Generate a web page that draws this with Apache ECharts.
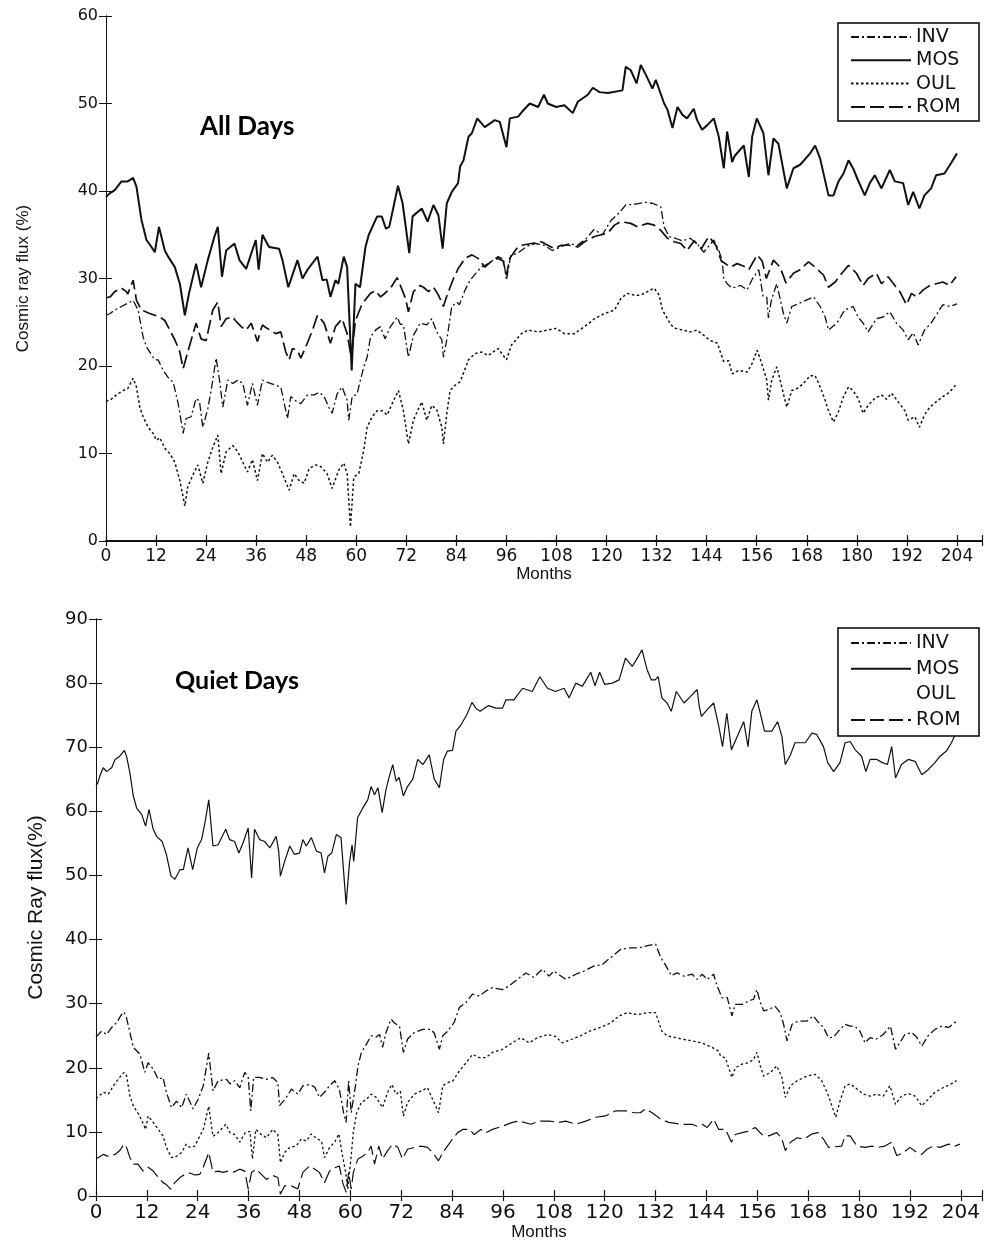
<!DOCTYPE html>
<html>
<head>
<meta charset="utf-8">
<title>Cosmic ray flux – All Days / Quiet Days</title>
<script src="https://cdn.jsdelivr.net/npm/echarts@6/dist/echarts.min.js"></script>
<style>
  html, body { margin: 0; padding: 0; background: #fff; }
  #chart { width: 985px; height: 1242px; }
</style>
</head>
<body>
<div id="chart"></div>
<script>
// Monthly cosmic ray flux (%) per neutron-monitor station, as [month, value] pairs.
const stations = ['INV', 'MOS', 'OUL', 'ROM'];
const monthTicks = [0, 12, 24, 36, 48, 60, 72, 84, 96, 108, 120, 132, 144, 156, 168, 180, 192, 204];

// ---- All Days ----
const allINV = [[0,25.8],[1.0,26.0],[2.1,26.4],[3.7,26.8],[4.9,27.1],[6.5,27.5],[7.7,26.4],[8.9,23.3],[9.7,22.2],[11.7,20.7],[12.5,20.7],[13.7,19.5],[15.3,18.4],[16.1,18.2],[17.3,15.7],[18.5,12.3],[19.2,14.0],[20.4,14.2],[21.6,16.3],[22.4,16.0],[23.2,13.0],[24.4,15.1],[25.2,17.2],[26.4,20.9],[27.2,18.4],[28.0,15.3],[29.2,18.4],[30.4,18.0],[31.6,18.4],[32.8,18.0],[33.9,15.5],[35.1,18.0],[36.3,15.5],[37.5,18.4],[38.3,18.2],[40.7,17.8],[41.9,17.6],[43.5,14.0],[44.3,16.5],[45.5,16.0],[46.7,15.7],[48.3,16.7],[49.9,16.7],[51.1,17.0],[52.3,16.5],[53.4,15.3],[54.2,14.6],[55.4,16.8],[56.6,17.6],[57.8,16.1],[58.2,13.8],[59.0,16.5],[60.2,16.8],[61.0,18.4],[61.8,19.9],[62.6,21.0],[63.4,23.3],[64.6,24.1],[65.8,24.5],[66.9,23.1],[68.2,24.5],[69.8,25.6],[70.5,24.8],[71.3,24.7],[72.5,21.0],[73.7,23.5],[75.3,24.9],[76.9,24.7],[78.1,25.4],[79.3,23.9],[80.5,23.0],[80.9,21.0],[81.7,23.0],[82.9,26.8],[84.1,27.3],[84.7,27.0],[86.1,28.7],[87.3,29.8],[88.5,30.5],[90.0,31.3],[92.0,31.8],[94.0,32.5],[95.3,32.2],[96.0,29.8],[97.0,32.6],[99.0,33.0],[101.0,33.7],[103.0,34.0],[105.0,33.8],[107.0,33.2],[109.0,33.6],[111.0,34.0],[113.0,33.8],[115.0,34.5],[117.0,35.6],[119.0,35.0],[121.0,36.6],[123.0,37.5],[124.6,38.4],[127.0,38.5],[129.0,38.7],[131.0,38.6],[133.0,38.2],[133.8,35.9],[135.0,34.8],[136.5,34.6],[138.2,34.3],[140.0,34.6],[141.7,34.0],[143.3,33.0],[145.7,34.4],[146.9,33.2],[147.7,32.1],[148.1,30.0],[148.9,29.4],[150.1,28.9],[152.1,29.2],[153.7,28.7],[155.0,30.0],[156.5,31.0],[157.5,28.0],[158.4,27.9],[158.8,25.5],[159.5,27.5],[160.8,29.4],[162.4,26.0],[163.2,24.9],[164.4,26.8],[166.8,27.3],[169.6,27.9],[171.2,26.8],[172.4,25.6],[173.2,24.1],[175.2,24.9],[177.1,26.4],[179.1,26.8],[180.3,25.6],[181.5,24.9],[182.7,23.9],[184.7,25.4],[186.3,25.6],[187.9,26.2],[189.5,24.9],[191.1,24.1],[192.3,23.0],[193.5,23.8],[194.7,22.4],[196.2,24.1],[197.8,24.9],[199.0,25.8],[200.6,27.0],[202.2,26.8],[204.0,27.1]];

const allMOS = [[0,39.3],[0.8,39.7],[2.1,40.1],[3.7,41.1],[5.2,41.1],[6.5,41.5],[7.3,40.5],[8.5,36.7],[9.7,34.4],[10.9,33.6],[11.7,33.0],[12.7,35.9],[14.1,33.2],[14.9,32.5],[16.5,31.3],[17.7,29.4],[18.9,25.8],[19.9,28.3],[21.6,31.7],[22.8,29.0],[24.4,32.1],[26.0,34.8],[26.8,35.9],[27.8,30.2],[28.8,33.2],[30.8,34.0],[32.0,32.1],[33.6,31.1],[35.9,34.4],[36.6,31.0],[37.5,35.0],[39.1,33.6],[41.5,33.4],[42.3,32.1],[43.7,29.0],[45.9,32.1],[47.1,30.0],[48.3,31.0],[50.7,32.5],[51.9,29.8],[52.9,29.9],[53.8,27.9],[55.0,29.8],[55.7,29.4],[57.0,32.5],[57.8,31.3],[58.9,19.5],[59.8,29.4],[60.9,29.0],[62.2,33.6],[63.0,35.0],[65.0,37.1],[66.1,37.1],[67.1,35.7],[67.9,35.9],[70.0,40.6],[71.1,38.6],[72.7,32.9],[73.5,37.1],[75.7,38.0],[77.1,36.5],[78.5,38.4],[79.7,37.2],[80.7,33.4],[81.7,38.6],[82.9,39.9],[84.4,40.9],[84.9,42.8],[85.7,43.5],[86.9,46.2],[87.7,46.6],[89.0,48.3],[90.8,47.3],[93.2,48.1],[94.4,47.9],[96.0,45.0],[96.8,48.3],[98.8,48.5],[100.0,49.2],[101.6,50.0],[103.6,49.6],[105.0,51.0],[105.9,50.0],[107.9,49.6],[109.9,49.8],[111.9,48.9],[113.1,50.2],[115.5,51.0],[116.7,51.8],[118.3,51.3],[120.3,51.2],[123.8,51.5],[124.6,54.2],[125.8,53.8],[127.2,52.3],[128.2,54.4],[129.4,53.3],[131.0,51.7],[131.8,52.7],[133.8,50.0],[134.6,49.3],[135.8,47.2],[137.0,49.6],[138.2,48.7],[139.3,48.3],[140.9,49.4],[141.7,48.1],[142.9,47.0],[144.1,47.5],[145.7,48.3],[146.9,46.2],[148.1,42.6],[148.9,46.8],[150.1,43.3],[150.7,44.0],[152.9,45.2],[154.1,41.6],[154.9,46.2],[156.0,48.3],[157.6,46.6],[158.8,41.8],[160.0,46.0],[161.2,45.4],[163.2,40.3],[164.8,42.6],[166.4,43.0],[168.8,44.3],[170.0,45.2],[171.2,43.7],[173.2,39.5],[174.4,39.5],[175.6,41.1],[176.8,42.0],[178.0,43.5],[179.1,42.6],[180.3,41.2],[181.9,39.5],[183.1,40.9],[184.3,41.8],[185.9,40.3],[187.9,42.4],[189.1,41.1],[191.1,40.9],[192.3,38.4],[193.5,39.9],[195.0,38.0],[196.2,39.5],[197.8,40.3],[199.0,41.8],[201.0,42.0],[202.6,43.2],[204.0,44.3]];

const allOUL = [[0,16.0],[1.0,16.1],[2.5,16.7],[4.1,17.2],[5.2,17.4],[6.5,18.6],[7.3,17.6],[8.1,15.3],[8.9,14.2],[10.1,13.0],[11.3,12.3],[12.1,11.5],[12.9,11.8],[14.1,10.6],[15.3,10.0],[16.5,9.0],[17.7,6.9],[18.9,4.0],[19.6,6.2],[20.8,7.5],[22.0,8.7],[23.2,6.6],[24.4,9.0],[25.6,10.7],[26.8,12.1],[27.6,7.7],[28.8,10.2],[30.4,10.9],[31.6,10.2],[32.8,9.0],[33.9,7.9],[35.1,9.3],[36.3,6.9],[37.5,10.0],[38.7,9.0],[39.9,9.8],[41.1,9.0],[42.3,7.7],[43.9,5.8],[45.1,7.7],[46.3,6.9],[47.5,6.6],[48.7,8.3],[50.3,8.7],[51.5,8.5],[53.0,7.7],[54.2,6.0],[55.8,8.1],[57.0,8.9],[57.8,7.7],[58.6,1.6],[59.4,7.3],[60.6,7.7],[61.8,10.4],[62.6,13.0],[63.8,14.2],[65.0,14.9],[66.2,14.9],[67.4,14.4],[68.6,15.7],[70.1,17.2],[71.3,14.9],[72.5,11.1],[73.7,13.8],[74.9,15.1],[75.7,15.9],[76.9,13.8],[78.1,15.5],[79.3,15.0],[80.5,13.0],[80.9,11.1],[81.7,14.6],[82.5,17.2],[83.7,17.8],[84.9,18.2],[86.1,19.7],[86.9,20.7],[88.4,21.4],[90.0,21.6],[91.6,21.2],[94.0,22.0],[96.0,20.7],[97.2,22.4],[99.6,23.7],[101.2,24.1],[103.6,23.9],[105.9,24.1],[107.9,24.3],[109.9,23.7],[112.3,23.7],[114.7,24.5],[117.1,25.4],[119.5,26.0],[121.9,26.4],[123.4,27.7],[125.0,28.3],[126.6,28.1],[128.2,28.1],[129.8,28.5],[131.4,28.9],[132.6,28.1],[133.4,26.4],[134.6,25.4],[135.4,24.7],[136.6,24.3],[138.2,24.1],[140.1,23.9],[141.7,24.1],[143.3,23.5],[144.9,22.9],[146.6,22.6],[147.4,21.4],[148.1,20.5],[149.3,20.6],[150.1,19.1],[151.7,19.5],[153.7,19.3],[154.9,20.3],[156.1,21.8],[156.9,20.7],[157.7,19.5],[158.4,18.4],[158.8,16.1],[159.6,18.4],[160.8,19.9],[161.6,18.4],[162.4,16.8],[163.2,15.3],[164.4,17.2],[165.6,17.4],[167.2,18.0],[168.8,18.9],[170.0,18.9],[171.2,17.6],[172.4,16.1],[173.2,14.9],[174.4,13.6],[175.6,14.8],[176.8,16.5],[178.0,17.6],[179.1,17.2],[180.3,16.3],[181.5,14.6],[182.7,15.5],[184.3,16.3],[185.9,16.7],[187.1,16.2],[188.3,16.9],[189.9,15.9],[191.5,14.9],[192.3,13.8],[193.9,14.2],[195.0,13.0],[196.2,14.4],[197.5,15.3],[199.0,15.9],[200.6,16.5],[202.2,17.0],[204.0,18.0]];

const allROM = [[0,27.8],[1.0,27.9],[2.1,28.5],[3.7,28.9],[4.9,28.5],[5.2,28.2],[6.5,29.8],[7.3,27.5],[8.5,26.4],[10.5,26.0],[12.9,25.6],[14.1,25.2],[15.3,24.1],[16.5,23.0],[17.7,21.6],[18.5,19.7],[19.6,21.6],[21.6,24.9],[22.8,23.1],[24.0,22.9],[25.6,26.4],[26.8,27.3],[27.6,24.5],[28.8,25.4],[30.4,25.6],[31.0,25.2],[32.4,24.5],[33.6,24.1],[34.8,24.9],[36.3,22.8],[37.5,24.7],[38.3,24.4],[40.7,23.7],[41.9,23.9],[43.1,21.6],[43.9,20.7],[44.7,22.0],[45.9,21.8],[46.7,20.9],[47.9,22.2],[49.5,24.1],[50.7,25.8],[52.3,24.9],[53.8,22.6],[55.0,24.5],[56.6,25.4],[57.8,23.7],[58.8,21.0],[59.8,25.2],[61.4,27.1],[63.4,28.3],[64.6,28.6],[65.8,27.9],[66.6,28.2],[68.2,28.9],[69.8,30.1],[71.0,28.7],[71.8,27.7],[72.5,26.2],[73.7,28.5],[75.3,29.2],[76.1,29.0],[77.3,28.5],[78.5,29.0],[79.7,28.1],[80.9,26.8],[81.7,28.0],[83.3,30.0],[84.5,31.2],[86.1,32.3],[87.7,32.7],[89.2,32.3],[90.8,31.3],[92.5,32.0],[94.0,32.3],[95.2,32.0],[96.0,30.4],[96.8,32.3],[98.4,33.4],[99.6,33.8],[102.0,34.0],[104.4,34.2],[105.9,33.8],[107.5,33.4],[109.1,33.8],[111.1,33.8],[113.1,33.6],[114.7,34.2],[117.1,34.8],[118.7,35.0],[120.3,35.2],[121.9,36.1],[123.4,36.5],[125.8,36.3],[127.4,35.9],[129.8,36.3],[131.4,36.1],[133.0,35.5],[134.6,34.6],[136.2,34.2],[137.8,34.0],[139.3,33.2],[141.0,34.3],[142.7,33.4],[144.5,34.8],[146.2,33.8],[147.5,32.0],[149.7,31.3],[151.3,31.7],[152.9,31.4],[154.1,31.0],[156.1,32.7],[157.3,32.0],[158.3,30.0],[160.0,32.1],[161.6,31.3],[163.0,29.5],[164.8,30.6],[166.4,31.0],[168.4,31.9],[170.0,31.3],[172.0,30.4],[173.2,29.0],[174.8,29.6],[176.4,30.6],[178.0,31.5],[179.9,30.6],[181.5,29.2],[182.7,30.0],[184.7,30.6],[185.9,29.4],[187.5,30.2],[189.1,29.2],[190.3,28.5],[191.9,27.0],[193.1,28.3],[194.3,27.9],[195.9,28.7],[197.5,29.2],[199.0,29.4],[200.6,29.6],[202.2,29.2],[203.8,30.2]];

// ---- Quiet Days ----
const quietINV = [[0,24.8],[0.4,25.0],[1.3,25.7],[2.5,25.2],[3.7,26.3],[4.9,27.1],[6.0,28.3],[6.6,28.7],[7.2,27.8],[8.0,25.5],[8.8,23.2],[10.4,22.1],[11.5,19.3],[12.3,20.8],[13.5,19.8],[14.7,18.2],[15.8,18.5],[16.6,16.2],[17.8,13.8],[19.0,14.8],[20.2,13.8],[21.3,15.9],[22.1,14.8],[22.9,13.6],[24.1,15.1],[25.3,17.2],[26.6,22.3],[27.6,16.4],[28.8,18.0],[30.8,18.2],[31.6,17.5],[32.7,18.0],[33.9,16.9],[35.1,19.3],[35.9,18.6],[36.5,13.3],[37.2,18.5],[38.6,18.5],[40.2,18.2],[41.7,18.5],[42.9,17.7],[43.3,14.1],[44.9,15.4],[46.1,16.7],[47.6,15.9],[48.8,17.2],[50.4,17.4],[51.6,17.0],[52.7,15.4],[53.9,16.2],[55.1,17.2],[56.3,18.0],[57.4,16.7],[58.4,13.0],[59.0,11.5],[59.6,18.0],[60.2,13.0],[61.2,17.2],[61.8,20.3],[62.6,22.4],[63.8,23.7],[64.9,25.0],[66.1,24.8],[66.9,25.2],[67.6,23.2],[68.4,25.5],[69.6,27.6],[70.4,27.0],[71.6,26.5],[72.5,22.4],[73.5,24.5],[75.1,25.5],[77.1,26.0],[79.0,26.0],[79.8,25.4],[81.0,22.9],[81.8,25.0],[82.9,25.7],[84.5,27.1],[85.7,29.4],[87.3,30.2],[88.8,31.5],[90.4,31.2],[92.0,32.0],[93.5,32.5],[95.9,32.2],[97.5,32.8],[99.4,33.8],[101.4,34.8],[103.3,34.1],[105.3,35.4],[106.9,34.3],[108.0,35.1],[110.8,33.8],[113.2,34.6],[115.1,35.1],[117.5,35.9],[119.4,36.1],[121.4,37.2],[123.8,38.5],[126.1,38.7],[128.1,38.7],[129.6,39.0],[132.0,39.3],[133.2,37.2],[134.3,36.1],[135.7,34.4],[137.1,34.8],[138.7,34.3],[140.6,34.6],[141.8,33.8],[143.0,34.6],[144.2,33.8],[145.7,34.6],[146.5,32.8],[147.7,30.9],[148.9,31.0],[150.0,28.1],[150.8,29.9],[152.4,29.9],[153.9,30.4],[155.1,30.7],[155.9,32.2],[156.7,30.2],[157.5,28.9],[158.7,29.1],[160.2,29.6],[161.4,28.6],[162.2,26.8],[163.0,24.2],[164.2,26.8],[165.7,27.3],[167.7,27.3],[169.2,28.1],[170.4,27.1],[171.6,26.3],[172.8,24.7],[174.0,24.8],[175.1,25.7],[176.7,26.8],[177.9,26.5],[179.0,26.5],[180.2,25.7],[181.4,23.9],[182.6,24.7],[184.1,24.5],[185.7,25.2],[187.4,26.5],[188.6,22.9],[189.6,23.9],[190.8,25.2],[192.4,25.5],[193.6,24.8],[194.8,23.4],[196.3,25.0],[197.9,26.0],[199.5,26.5],[201.1,26.3],[202.2,26.8],[203.0,27.3]];

const quietMOS = [[0,64.0],[0.4,64.4],[0.9,65.5],[1.7,66.8],[2.5,66.2],[3.7,66.8],[4.5,68.1],[5.6,68.6],[6.7,69.5],[7.2,68.6],[8.0,66.0],[8.8,62.4],[9.6,60.5],[10.8,59.5],[11.7,57.7],[12.5,60.3],[13.5,57.2],[14.3,56.1],[15.6,55.3],[16.6,53.3],[17.7,49.9],[18.6,49.4],[19.8,50.9],[20.6,50.9],[21.0,52.2],[21.7,54.3],[22.8,50.9],[23.9,54.3],[24.9,55.6],[25.7,58.2],[26.6,61.8],[27.6,54.6],[28.8,54.8],[30.6,57.2],[31.5,55.6],[32.7,55.3],[33.7,53.5],[34.7,55.1],[35.9,57.4],[36.7,49.6],[37.4,57.2],[38.6,55.6],[39.8,55.3],[41.0,54.3],[42.5,56.1],[43.1,53.8],[43.5,49.9],[44.5,52.2],[45.7,54.6],[46.8,53.3],[48.0,53.5],[48.8,55.6],[49.6,54.6],[50.8,55.9],[52.0,53.8],[53.1,53.5],[53.9,50.4],[54.7,53.0],[55.6,53.5],[56.7,56.4],[57.8,55.9],[59.0,45.5],[59.8,52.0],[60.4,54.8],[60.8,52.2],[61.7,59.0],[62.9,60.5],[64.1,61.8],[64.9,63.9],[65.7,62.6],[66.5,63.7],[67.5,59.8],[68.4,63.4],[69.2,65.5],[70.0,67.3],[70.8,64.7],[71.5,65.3],[72.5,62.4],[73.5,63.9],[74.7,65.0],[75.9,68.1],[77.1,67.3],[78.6,68.8],[79.8,65.0],[81.0,63.7],[82.0,68.1],[82.9,69.4],[84.1,69.5],[84.9,72.5],[86.1,73.5],[87.5,75.1],[88.7,77.0],[89.6,76.1],[90.6,75.6],[92.6,76.5],[94.3,76.1],[95.9,76.1],[96.7,77.4],[98.6,77.4],[100.6,79.2],[102.9,78.7],[104.7,81.0],[106.5,79.2],[108.4,78.7],[110.4,79.2],[111.6,77.7],[113.2,80.0],[114.7,79.5],[116.7,81.7],[117.7,79.6],[118.8,81.7],[120.0,79.8],[121.8,80.0],[123.4,80.5],[124.9,83.9],[126.5,82.6],[127.7,83.9],[128.8,85.2],[130.0,82.1],[131.0,80.5],[131.9,80.5],[132.6,81.0],[133.5,77.7],[134.7,76.9],[135.7,75.6],[136.9,78.7],[138.7,76.9],[140.2,77.9],[141.8,79.0],[142.3,76.4],[142.8,74.8],[144.5,76.1],[145.7,76.9],[146.9,73.3],[147.8,70.1],[148.8,75.3],[149.9,69.6],[151.6,72.2],[152.8,74.0],[153.8,70.1],[154.7,75.6],[155.9,77.4],[156.7,75.3],[157.7,72.5],[159.4,72.5],[160.8,74.0],[161.8,71.7],[162.6,67.3],[163.8,68.8],[164.9,70.7],[167.3,70.7],[168.9,72.2],[170.0,72.0],[171.6,70.1],[172.6,67.6],[174.0,66.2],[175.5,67.6],[176.7,70.7],[177.9,70.9],[179.1,69.6],[180.6,68.6],[181.6,66.2],[182.6,68.1],[184.2,68.1],[185.5,67.6],[186.7,67.3],[187.7,70.1],[188.6,65.2],[190.0,67.3],[191.6,68.1],[193.2,67.8],[194.8,65.7],[196.3,66.5],[197.9,67.6],[199.1,68.6],[200.6,69.4],[201.8,70.7],[202.8,72.2],[204.0,73.5]];

const quietOUL = [[0,15.2],[0.4,15.4],[1.7,16.2],[2.9,15.9],[4.1,17.2],[5.2,18.2],[6.6,19.3],[7.2,18.8],[8.0,15.6],[8.8,14.1],[10.0,12.8],[10.8,11.8],[11.7,10.4],[12.3,12.5],[13.5,11.5],[14.7,10.4],[15.8,9.4],[16.6,7.6],[17.8,6.0],[19.0,6.2],[20.2,6.8],[21.3,8.1],[22.1,7.6],[23.3,7.8],[24.5,9.4],[25.3,10.4],[26.6,14.0],[27.6,9.3],[28.8,9.9],[30.6,11.2],[31.6,9.9],[32.7,9.6],[33.9,8.4],[35.2,9.9],[36.3,10.1],[36.9,5.8],[37.7,10.4],[39.0,9.6],[40.2,9.1],[41.7,10.4],[42.9,9.6],[43.5,5.2],[44.5,6.8],[45.7,7.6],[47.2,7.8],[48.4,8.9],[49.6,8.6],[50.8,9.7],[52.0,9.0],[53.2,8.6],[53.9,6.0],[55.1,7.6],[56.3,8.4],[57.3,9.7],[58.0,6.8],[58.9,3.7],[59.4,1.1],[60.2,6.3],[60.7,10.0],[61.5,13.0],[62.6,14.6],[63.8,15.1],[64.9,15.9],[66.1,15.4],[67.6,13.8],[68.8,16.2],[69.8,17.4],[70.8,15.9],[71.8,16.4],[72.5,12.5],[73.5,14.6],[75.1,15.9],[76.7,16.4],[78.2,16.9],[79.4,15.1],[80.8,13.0],[81.8,17.2],[82.9,17.7],[84.1,17.9],[85.7,19.5],[87.3,20.8],[88.8,22.1],[90.4,21.6],[92.0,21.6],[93.5,22.4],[95.9,22.9],[98.2,23.9],[100.2,24.7],[102.2,23.9],[104.1,24.7],[106.5,25.2],[108.4,24.9],[110.0,23.9],[112.4,24.5],[114.3,25.0],[116.3,25.7],[119.0,26.3],[121.4,27.0],[123.4,28.1],[125.3,28.6],[127.7,28.3],[130.0,28.6],[132.0,28.6],[133.5,25.7],[134.7,25.0],[138.2,24.5],[140.6,24.2],[142.9,23.9],[145.3,23.2],[146.9,22.6],[147.3,21.9],[148.5,21.5],[150.0,18.5],[150.8,20.0],[152.4,20.6],[153.9,20.8],[155.1,21.3],[155.9,22.4],[156.7,20.3],[157.5,18.7],[159.1,19.3],[160.6,20.3],[161.8,18.5],[162.6,15.4],[163.8,17.2],[165.4,18.0],[167.7,18.7],[169.6,19.0],[171.2,18.0],[172.8,15.6],[174.5,12.3],[175.5,14.8],[176.7,17.2],[177.9,17.5],[179.5,16.7],[181.0,15.9],[182.6,15.6],[184.1,15.9],[185.7,15.6],[187.3,17.2],[188.6,14.3],[190.0,15.6],[191.6,16.0],[193.2,15.6],[194.8,14.1],[196.3,15.1],[197.9,16.2],[199.8,16.9],[201.4,17.4],[203.0,18.0]];

const quietROM = [[0,5.8],[0.4,6.0],[1.7,6.5],[2.9,6.2],[4.5,6.5],[5.6,7.1],[6.6,8.1],[7.2,7.6],[8.0,6.0],[8.8,5.0],[9.9,5.0],[11.1,3.9],[12.3,4.5],[13.5,3.9],[14.7,2.9],[15.8,2.1],[16.6,1.8],[17.6,1.1],[18.6,2.1],[19.8,2.9],[21.0,3.4],[22.1,3.6],[23.3,3.3],[24.5,3.4],[25.3,4.5],[26.6,6.8],[27.6,3.7],[28.8,3.9],[30.0,3.7],[31.1,3.9],[32.3,3.7],[33.9,4.2],[35.1,3.9],[35.9,1.1],[36.7,3.7],[37.8,4.2],[39.0,3.4],[40.2,2.6],[41.7,3.2],[42.9,2.9],[43.5,0.3],[44.5,1.6],[46.1,1.6],[47.6,1.1],[48.8,3.7],[50.4,4.7],[51.6,4.2],[52.7,3.7],[53.9,2.1],[55.1,3.9],[56.3,4.4],[57.4,4.7],[58.2,2.1],[59.0,0.6],[59.6,3.7],[60.2,1.1],[60.7,3.7],[61.8,5.8],[62.9,6.2],[64.1,6.8],[64.9,7.8],[65.7,5.0],[66.7,7.8],[67.6,5.8],[68.8,7.1],[70.0,8.1],[71.2,7.6],[72.3,5.8],[73.5,7.3],[75.1,7.6],[76.7,7.8],[78.2,7.6],[79.4,6.8],[80.8,5.5],[81.8,6.8],[82.9,7.8],[84.1,8.9],[85.3,9.9],[86.5,10.4],[88.1,10.4],[89.2,9.6],[90.8,10.4],[92.0,9.9],[93.5,10.4],[95.9,10.9],[98.2,11.5],[99.8,11.7],[102.6,11.2],[104.5,11.7],[106.9,11.7],[109.2,11.5],[110.8,11.7],[113.2,11.2],[115.5,11.7],[117.9,12.3],[120.2,12.5],[122.6,13.3],[124.9,13.3],[126.9,13.0],[128.4,13.0],[129.6,13.6],[131.2,13.0],[133.2,12.0],[135.1,11.5],[138.2,11.2],[140.6,11.2],[141.8,10.9],[143.0,11.2],[144.2,10.7],[145.7,12.0],[146.9,10.4],[148.5,10.4],[149.9,8.4],[150.8,9.6],[152.4,9.9],[153.9,10.1],[155.5,10.7],[157.1,9.6],[158.7,9.4],[160.6,9.9],[161.8,8.9],[162.6,7.1],[163.8,8.4],[165.4,9.1],[167.0,8.9],[168.9,9.7],[170.4,9.9],[171.6,8.9],[172.8,7.6],[175.9,7.8],[176.7,9.4],[177.9,9.4],[179.5,7.8],[181.4,7.6],[183.0,7.8],[184.5,7.6],[186.1,7.8],[187.7,8.4],[188.9,6.3],[190.5,6.8],[192.0,7.6],[193.6,6.8],[194.8,6.5],[196.0,7.3],[197.5,7.8],[199.1,7.6],[201.1,8.1],[202.6,7.8],[203.8,8.1]];

// ---- styling ----
const INK = '#111';
const CLEAR = 'rgba(0,0,0,0)';
const TICK_FONT = 'DejaVu Sans, Liberation Sans, sans-serif';
const LABEL_FONT = 'Liberation Sans, Arial, sans-serif';

const dash = {
  INV: [8, 3, 2, 3],
  MOS: 'solid',
  OUL: [2.5, 2.5],
  ROM: [14, 5]
};
const widthAll = { INV: 1.3, MOS: 2.0, OUL: 1.5, ROM: 1.7 };
const widthQuiet = { INV: 1.3, MOS: 1.2, OUL: 1.3, ROM: 1.2 };

const allData = { INV: allINV, MOS: allMOS, OUL: allOUL, ROM: allROM };
const quietData = { INV: quietINV, MOS: quietMOS, OUL: quietOUL, ROM: quietROM };

function monthLabel(v) {
  return monthTicks.indexOf(v) >= 0 ? String(v) : '';
}

function bottomX(gridIndex, max, fontSize, nameGap, showLine) {
  return {
    gridIndex, type: 'value', min: 0, max, interval: 12,
    name: 'Months', nameLocation: 'middle', nameGap,
    nameTextStyle: { color: INK, fontFamily: LABEL_FONT, fontSize: 17 },
    axisLine: { show: showLine, lineStyle: { color: INK, width: 2 } },
    axisTick: { show: true, inside: true, length: 6, lineStyle: { color: INK, width: 1.2 } },
    axisLabel: { color: INK, fontFamily: TICK_FONT, fontSize, margin: 7, formatter: monthLabel, hideOverlap: false },
    splitLine: { show: false }
  };
}
function topX(gridIndex, max) {
  return {
    gridIndex, type: 'value', min: 0, max, interval: 12, position: 'top',
    axisLine: { show: true, lineStyle: { color: INK, width: 1 } },
    axisTick: { show: true, inside: true, length: 5, lineStyle: { color: INK, width: 1.2 } },
    axisLabel: { show: false }, splitLine: { show: false }
  };
}
function leftY(gridIndex, max, name, nameSize, nameGap, fontSize) {
  return {
    gridIndex, type: 'value', min: 0, max, interval: 10,
    name, nameLocation: 'middle', nameGap, nameRotate: 90,
    nameTextStyle: { color: INK, fontFamily: LABEL_FONT, fontSize: nameSize },
    axisLine: { show: true, lineStyle: { color: INK, width: 1 } },
    axisTick: { show: true, inside: true, length: 6, lineStyle: { color: INK, width: 1 } },
    axisLabel: { color: INK, fontFamily: TICK_FONT, fontSize, margin: 8 },
    splitLine: { show: false }
  };
}
function rightY(gridIndex, max) {
  return {
    gridIndex, type: 'value', min: 0, max, interval: 10, position: 'right',
    axisLine: { show: true, lineStyle: { color: INK, width: 1 } },
    axisTick: { show: true, inside: true, length: 7, lineStyle: { color: INK, width: 1 } },
    axisLabel: { show: false }, splitLine: { show: false }
  };
}

function makeSeries(dataMap, widths, axisIndex) {
  return stations.map(name => ({
    name, type: 'line',
    xAxisIndex: axisIndex, yAxisIndex: axisIndex,
    data: dataMap[name],
    symbol: 'none', showSymbol: false, silent: true,
    // transparent item colour keeps the legend marker down to the line sample only
    itemStyle: { color: CLEAR },
    lineStyle: { color: INK, width: widths[name], type: dash[name] },
    z: name === 'MOS' ? 3 : 2
  }));
}

function legendBox(left, top, gap, padding, hideOUL) {
  return {
    orient: 'vertical', left, top,
    selectedMode: false,
    backgroundColor: '#fff',
    borderColor: '#000', borderWidth: 1.5, borderRadius: 0,
    padding, itemGap: gap,
    itemWidth: 60, itemHeight: 14,
    itemStyle: { color: CLEAR, borderWidth: 0 },
    textStyle: { color: INK, fontFamily: TICK_FONT, fontSize: 19, lineHeight: 20, width: 55 },
    data: stations.map(name => (hideOUL && name === 'OUL')
      ? { name, lineStyle: { color: CLEAR } }
      : { name }),
    z: 10
  };
}

const chart = echarts.init(document.getElementById('chart'), null, { renderer: 'canvas' });

chart.setOption({
  animation: false,
  backgroundColor: '#fff',
  title: [
    { text: 'All Days', left: 200, top: 114, padding: 0,
      textStyle: { fontFamily: 'Lato, Open Sans, sans-serif', fontWeight: 'bold', fontSize: 26, color: '#000' } },
    { text: 'Quiet Days', left: 175, top: 668, padding: 0,
      textStyle: { fontFamily: 'Lato, Open Sans, sans-serif', fontWeight: 'bold', fontSize: 25, color: '#000' } }
  ],
  legend: [
    legendBox(838, 23, 3.3, [4, 8, 4, 12], false),
    legendBox(838, 628, 5.7, [5, 8, 6, 12], true)
  ],
  grid: [
    { left: 106, top: 16, width: 879, height: 525 },
    { left: 96, top: 619, width: 889, height: 578 }
  ],
  xAxis: [
    bottomX(0, 210, 17, 25, true),
    topX(0, 210),
    bottomX(1, 209, 20, 27, false),
    topX(1, 209)
  ],
  yAxis: [
    leftY(0, 60, 'Cosmic ray flux (%)', 17, 74, 16),
    rightY(0, 60),
    leftY(1, 90, 'Cosmic Ray flux(%)', 21, 49, 18),
    rightY(1, 90)
  ],
  series: [
    ...makeSeries(allData, widthAll, 0),
    ...makeSeries(quietData, widthQuiet, 2)
  ]
});
</script>
</body>
</html>
